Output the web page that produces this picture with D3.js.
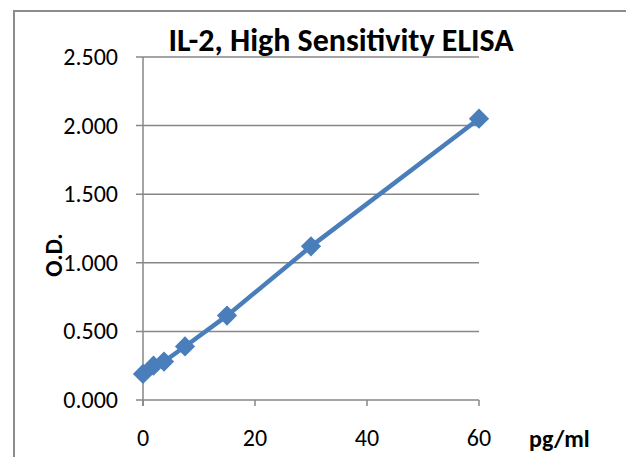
<!DOCTYPE html>
<html>
<head>
<meta charset="utf-8">
<script src="https://cdn.jsdelivr.net/npm/d3@7"></script>
<style>
body { margin: 0; background: #fff; }
</style>
</head>
<body>
<div class="chart"></div>
<script>
// standard curve values
var conc = [0, 1.875, 3.75, 7.5, 15, 30, 60]
var od = [0.19, 0.25, 0.28, 0.39, 0.615, 1.12, 2.05]
var xTicks = [0, 20, 40, 60]
var yTicks = [0, 0.5, 1, 1.5, 2, 2.5]

var width = 626
var height = 457
var plotLeft = 143, plotRight = 479, plotTop = 57, plotBottom = 400

var svg = d3.select(".chart").append("svg").attr("width", width).attr("height", height)

// outer frame (only top + left visible)
svg.append("path").attr("d", "M14," + height + "V11H" + width)
    .attr("fill", "none").attr("stroke", "#8c8c8c").attr("stroke-width", 2)

var x = d3.scaleLinear().domain([0, 60]).range([plotLeft, plotRight])
var y = d3.scaleLinear().domain([0, 2.5]).range([plotBottom, plotTop])

// gridlines
svg.append("g").selectAll("line").data(yTicks).enter().append("line")
    .attr("x1", plotLeft - 7).attr("x2", plotRight)
    .attr("y1", function(d){ return y(d) }).attr("y2", function(d){ return y(d) })
    .attr("stroke", "#878787").attr("stroke-width", 1.5)

// y axis line
svg.append("line").attr("x1", plotLeft).attr("x2", plotLeft).attr("y1", plotTop).attr("y2", plotBottom + 6)
    .attr("stroke", "#878787").attr("stroke-width", 1.5)

// x ticks
svg.append("g").selectAll("line").data(xTicks).enter().append("line")
    .attr("x1", function(d){ return x(d) }).attr("x2", function(d){ return x(d) })
    .attr("y1", plotBottom).attr("y2", plotBottom + 6)
    .attr("stroke", "#878787").attr("stroke-width", 1.5)

var font = "Carlito, Calibri, 'Open Sans', sans-serif"

svg.append("g").selectAll("text").data(yTicks).enter().append("text")
    .attr("x", 118).attr("y", function(d){ return y(d) + 8 })
    .attr("text-anchor", "end").attr("font-family", font).attr("font-size", "24px")
    .text(function(d){ return d3.format(".3f")(d) })

svg.append("g").selectAll("text").data(xTicks).enter().append("text")
    .attr("x", function(d){ return x(d) }).attr("y", 446)
    .attr("text-anchor", "middle").attr("font-family", font).attr("font-size", "24px")
    .text(function(d){ return d })

// series
var pts = conc.map(function(c, i){ return [c, od[i]] })
var line = d3.line().x(function(d){ return x(d[0]) }).y(function(d){ return y(d[1]) })

svg.append("path").datum(pts).attr("d", line)
    .attr("fill", "none").attr("stroke", "#4a7ebb").attr("stroke-width", 4.5)

svg.append("g").selectAll("path").data(pts).enter().append("path")
    .attr("d", d3.symbol().type(d3.symbolSquare).size(205))
    .attr("transform", function(d){ return "translate(" + x(d[0]) + "," + y(d[1]) + ") rotate(45)" })
    .attr("fill", "#4a7ebb")

// titles
svg.append("text").attr("x", 341).attr("y", 51).attr("text-anchor", "middle")
    .attr("font-family", font).attr("font-weight", "bold").attr("font-size", "32px")
    .text("IL-2, High Sensitivity ELISA")

svg.append("text").attr("transform", "translate(62,255) rotate(-90)").attr("text-anchor", "middle")
    .attr("font-family", font).attr("font-weight", "bold").attr("font-size", "24px")
    .text("O.D.")

svg.append("text").attr("x", 529).attr("y", 447)
    .attr("font-family", font).attr("font-weight", "bold").attr("font-size", "24px")
    .text("pg/ml")
</script>
</body>
</html>
